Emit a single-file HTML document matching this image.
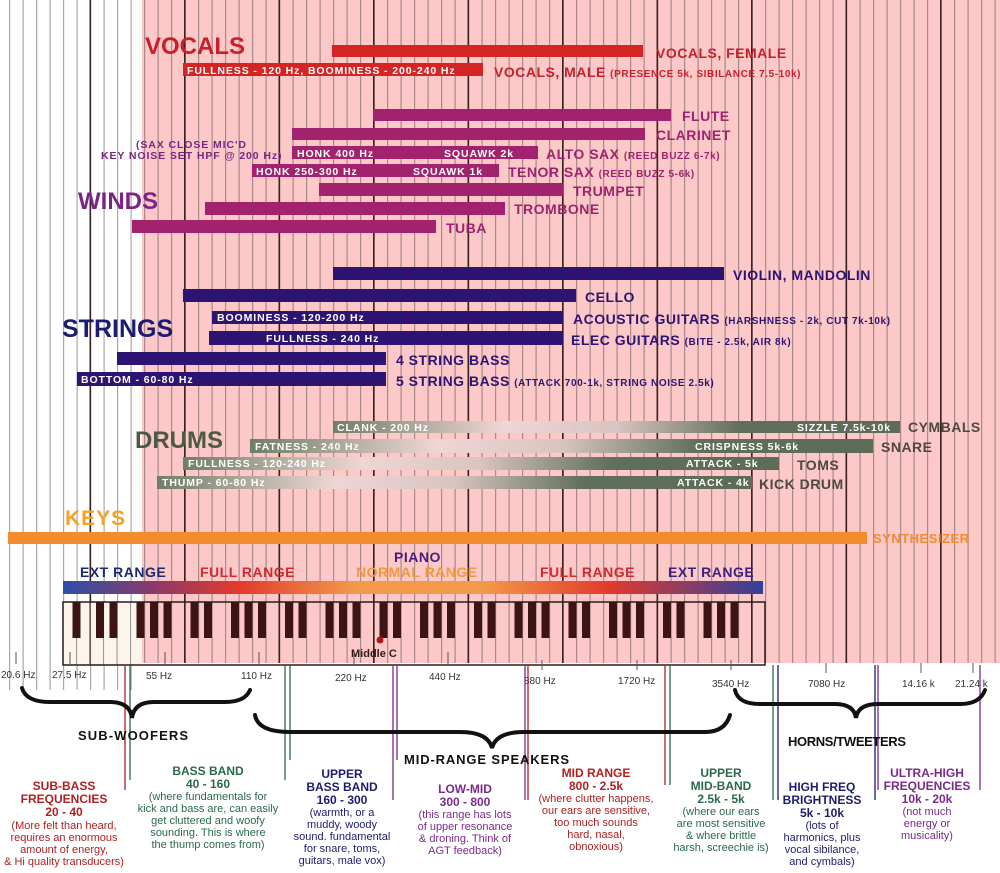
<!DOCTYPE html>
<html><head><meta charset="utf-8"><style>
html,body{margin:0;padding:0;background:#fff;}
svg{display:block;}
text{font-family:"Liberation Sans",sans-serif;font-weight:bold;}
text.n,.n text{font-weight:normal;}
.nb{font-weight:bold;}
.in text{letter-spacing:0.9px;}
.lab text{letter-spacing:0.5px;}
.sm{font-size:10px;letter-spacing:0.6px;}
</style></head><body>
<svg width="1000" height="873" viewBox="0 0 1000 873" xmlns="http://www.w3.org/2000/svg">
<defs>
<pattern id="thinW" x="9" y="0" width="13.5" height="10" patternUnits="userSpaceOnUse"><rect x="0" y="0" width="1.2" height="10" fill="#a8a8a8"/></pattern>
<pattern id="thinP" x="9" y="0" width="13.5" height="10" patternUnits="userSpaceOnUse"><rect x="0" y="0" width="1.2" height="10" fill="#a88a8a"/></pattern>
<pattern id="oct" x="89.5" y="0" width="94.5" height="10" patternUnits="userSpaceOnUse"><rect x="0" y="0" width="1.6" height="10" fill="#3a2222"/></pattern>
<pattern id="blk" x="90" y="602" width="94.5" height="63" patternUnits="userSpaceOnUse">
<rect x="6" y="0" width="8" height="36" fill="#3d1414"/><rect x="19.5" y="0" width="8" height="36" fill="#3d1414"/>
<rect x="46.5" y="0" width="8" height="36" fill="#3d1414"/><rect x="60" y="0" width="8" height="36" fill="#3d1414"/><rect x="73.5" y="0" width="8" height="36" fill="#3d1414"/></pattern>
<linearGradient id="drum" x1="0" x2="1" y1="0" y2="0">
<stop offset="0" stop-color="#6e7e66"/><stop offset="0.3" stop-color="#efd6d4"/><stop offset="0.5" stop-color="#d8c4c0"/><stop offset="0.72" stop-color="#5f6f59"/><stop offset="1" stop-color="#5c6c56"/></linearGradient>
<linearGradient id="pg" x1="0" x2="1" y1="0" y2="0">
<stop offset="0" stop-color="#2c50a8"/><stop offset="0.13" stop-color="#8a3a6a"/><stop offset="0.25" stop-color="#e33a2c"/><stop offset="0.42" stop-color="#f29a4a"/><stop offset="0.6" stop-color="#f29a4a"/><stop offset="0.78" stop-color="#e33a2c"/><stop offset="1" stop-color="#33409a"/></linearGradient>
</defs>
<rect x="142" y="0" width="858" height="663" fill="#fdc8c8"/>
<rect x="0" y="0" width="142" height="690" fill="url(#thinW)"/>
<rect x="142" y="0" width="858" height="663" fill="url(#thinP)"/>
<rect x="0" y="0" width="1000" height="663" fill="url(#oct)"/>

<!-- VOCALS -->
<text x="145" y="54" font-size="24" fill="#c8202a">VOCALS</text>
<rect x="332" y="45" width="311" height="12" fill="#d42424"/>
<g class="lab" font-size="14">
<text x="656" y="58" fill="#c8202a">VOCALS, FEMALE</text>
<text x="494" y="77" fill="#c8202a">VOCALS, MALE <tspan class="sm">(PRESENCE 5k, SIBILANCE 7.5-10k)</tspan></text></g>
<rect x="183" y="63" width="300" height="13" fill="#d42424"/>
<g class="in" fill="#fff" font-size="10.5"><text x="187" y="74">FULLNESS - 120 Hz, BOOMINESS - 200-240 Hz</text></g>

<!-- WINDS -->
<text x="78" y="209" font-size="24" fill="#7c2484">WINDS</text>
<g fill="#a2226e">
<rect x="373" y="109" width="298" height="12"/><rect x="292" y="128" width="353" height="12"/>
<rect x="292" y="146" width="246" height="13"/><rect x="252" y="164" width="247" height="13"/>
<rect x="319" y="183" width="244" height="13"/><rect x="205" y="202" width="300" height="13"/>
<rect x="132" y="220" width="304" height="13"/></g>
<g class="lab" fill="#a0226e" font-size="14">
<text x="682" y="121">FLUTE</text><text x="656" y="140">CLARINET</text>
<text x="546" y="159">ALTO SAX <tspan class="sm">(REED BUZZ 6-7k)</tspan></text>
<text x="508" y="177">TENOR SAX <tspan class="sm">(REED BUZZ 5-6k)</tspan></text>
<text x="573" y="196">TRUMPET</text><text x="514" y="214">TROMBONE</text><text x="446" y="233">TUBA</text></g>
<g class="in" fill="#fff" font-size="10.5"><text x="297" y="157">HONK 400 Hz</text><text x="444" y="157">SQUAWK  2k</text>
<text x="256" y="175">HONK 250-300 Hz</text><text x="413" y="175">SQUAWK  1k</text></g>
<g class="in" fill="#7a2484" font-size="10.5"><text x="136" y="148">(SAX CLOSE MIC'D</text><text x="101" y="159" letter-spacing="0.3">KEY NOISE SET HPF @ 200 Hz)</text></g>

<!-- STRINGS -->
<text x="62" y="337" font-size="25" fill="#1c1c70">STRINGS</text>
<g fill="#2e1472">
<rect x="333" y="267" width="391" height="13"/><rect x="183" y="289" width="393" height="13"/>
<rect x="212" y="311" width="351" height="13"/><rect x="209" y="331" width="354" height="14"/>
<rect x="117" y="352" width="269" height="13"/><rect x="77" y="372" width="309" height="14"/></g>
<g class="lab" fill="#2e1472" font-size="14">
<text x="733" y="280">VIOLIN, MANDOLIN</text><text x="585" y="302">CELLO</text>
<text x="573" y="324">ACOUSTIC GUITARS <tspan class="sm">(HARSHNESS - 2k, CUT 7k-10k)</tspan></text>
<text x="571" y="345">ELEC GUITARS <tspan class="sm">(BITE - 2.5k, AIR 8k)</tspan></text>
<text x="396" y="365">4 STRING BASS</text>
<text x="396" y="386">5 STRING BASS <tspan class="sm">(ATTACK 700-1k, STRING NOISE 2.5k)</tspan></text></g>
<g class="in" fill="#fff" font-size="10.5"><text x="217" y="321">BOOMINESS - 120-200 Hz</text><text x="266" y="342">FULLNESS - 240 Hz</text><text x="81" y="383">BOTTOM - 60-80 Hz</text></g>

<!-- DRUMS -->
<text x="135" y="448" font-size="24" fill="#4c5a44">DRUMS</text>
<g fill="url(#drum)">
<rect x="333" y="421" width="567" height="12"/><rect x="250" y="439" width="623" height="14"/>
<rect x="183" y="457" width="596" height="13"/><rect x="157" y="476" width="595" height="13"/></g>
<g class="in" fill="#fff" font-size="10.5"><text x="337" y="431">CLANK - 200 Hz</text><text x="797" y="431">SIZZLE 7.5k-10k</text>
<text x="255" y="450">FATNESS - 240 Hz</text><text x="695" y="450">CRISPNESS 5k-6k</text>
<text x="188" y="467">FULLNESS - 120-240 Hz</text><text x="686" y="467">ATTACK - 5k</text>
<text x="162" y="486">THUMP - 60-80 Hz</text><text x="677" y="486">ATTACK - 4k</text></g>
<g class="lab" fill="#4c4a40" font-size="14"><text x="908" y="432">CYMBALS</text><text x="881" y="452">SNARE</text>
<text x="797" y="470">TOMS</text><text x="759" y="489">KICK DRUM</text></g>

<!-- KEYS -->
<text x="65" y="525" font-size="21" letter-spacing="1" fill="#f0a428">KEYS</text>
<rect x="8" y="532" width="859" height="12" fill="#f28c2c"/>
<text x="873" y="543" font-size="13" letter-spacing="0.5" fill="#f28c2c">SYNTHESIZER</text>
<g class="lab" font-size="14">
<text x="80" y="577" fill="#1c2a70">EXT RANGE</text><text x="200" y="577" fill="#d02a30">FULL RANGE</text>
<text x="394" y="562" fill="#4a1e78">PIANO</text><text x="356" y="577" fill="#f0983a">NORMAL RANGE</text>
<text x="540" y="577" fill="#d02a30">FULL RANGE</text><text x="668" y="577" fill="#3a2480">EXT RANGE</text></g>
<rect x="63" y="581" width="700" height="13" fill="url(#pg)"/>
<rect x="63" y="602" width="79" height="63" fill="#fbf3e8" opacity="0.85"/>
<rect x="76" y="602" width="1" height="63" fill="#9a9a9a"/><rect x="89.5" y="602" width="1.2" height="63" fill="#3a2222"/>
<rect x="103" y="602" width="1" height="63" fill="#9a9a9a"/><rect x="116.5" y="602" width="1" height="63" fill="#9a9a9a"/><rect x="130" y="602" width="1" height="63" fill="#9a9a9a"/>
<rect x="72.5" y="602" width="8" height="36" fill="#3d1414"/>
<rect x="90" y="602" width="661.5" height="63" fill="url(#blk)"/>
<rect x="63" y="602" width="702" height="63" fill="none" stroke="#2a1a1a" stroke-width="1.5"/>
<circle cx="380" cy="640" r="3.5" fill="#b01818"/>
<text x="351" y="657" font-size="11" fill="#3a1a1a">Middle C</text>

<g stroke="#555" stroke-width="1">
<line x1="16" y1="652" x2="16" y2="664"/><line x1="70" y1="652" x2="70" y2="664"/><line x1="165" y1="652" x2="165" y2="664"/>
<line x1="259" y1="652" x2="259" y2="664"/><line x1="354" y1="652" x2="354" y2="664"/><line x1="448" y1="652" x2="448" y2="664"/>
<line x1="542" y1="660" x2="542" y2="670"/><line x1="637" y1="660" x2="637" y2="670"/><line x1="731" y1="660" x2="731" y2="670"/>
<line x1="826" y1="663" x2="826" y2="673"/><line x1="921" y1="663" x2="921" y2="673"/><line x1="973" y1="663" x2="973" y2="673"/></g>
<g class="n" font-size="10" fill="#333">
<text x="1" y="678">20.6 Hz</text><text x="52" y="678">27.5 Hz</text>
<text x="146" y="679">55 Hz</text><text x="241" y="679">110 Hz</text>
<text x="335" y="681">220 Hz</text><text x="429" y="680">440 Hz</text>
<text x="524" y="684">880 Hz</text><text x="618" y="684">1720 Hz</text>
<text x="712" y="687">3540 Hz</text><text x="808" y="687">7080 Hz</text>
<text x="902" y="687">14.16 k</text><text x="955" y="687">21.24 k</text></g>

<g stroke-width="1.3">
<line x1="125" y1="665" x2="125" y2="790" stroke="#b02020"/><line x1="130" y1="665" x2="130" y2="780" stroke="#2a6a4a"/>
<line x1="285" y1="665" x2="285" y2="780" stroke="#2a6a4a"/><line x1="290" y1="665" x2="290" y2="760" stroke="#2a6a4a"/>
<line x1="393" y1="665" x2="393" y2="800" stroke="#7a2a8a"/><line x1="397" y1="665" x2="397" y2="760" stroke="#7a2a8a"/>
<line x1="525" y1="665" x2="525" y2="800" stroke="#7a2a8a"/><line x1="528" y1="665" x2="528" y2="800" stroke="#b02020"/>
<line x1="665" y1="665" x2="665" y2="785" stroke="#b02020"/><line x1="670" y1="665" x2="670" y2="785" stroke="#2a6a4a"/>
<line x1="773" y1="665" x2="773" y2="800" stroke="#2a6a4a"/><line x1="778" y1="665" x2="778" y2="800" stroke="#1c1c70"/>
<line x1="875" y1="665" x2="875" y2="800" stroke="#1c1c70"/><line x1="878" y1="665" x2="878" y2="790" stroke="#7a2a8a"/>
<line x1="980" y1="665" x2="980" y2="790" stroke="#7a2a8a"/></g>

<g fill="none" stroke="#111" stroke-width="4" stroke-linecap="round">
<path d="M22 688 Q26 702 50 702 L110 702 Q130 702 132 718 Q134 702 154 702 L225 702 Q245 702 250 690"/>
<path d="M255 715 Q258 732 290 732 L460 732 Q488 732 492 748 Q496 732 524 732 L705 732 Q725 732 730 715"/>
<path d="M735 690 Q738 704 760 704 L835 704 Q854 704 856 718 Q858 704 878 704 L960 704 Q980 704 985 690"/></g>
<g font-size="13" fill="#111">
<text x="78" y="740" textLength="110">SUB-WOOFERS</text><text x="404" y="764" textLength="165">MID-RANGE SPEAKERS</text><text x="788" y="746" textLength="118">HORNS/TWEETERS</text></g>

<g text-anchor="middle" font-size="12">
<g fill="#b02020"><text x="64" y="790">SUB-BASS</text><text x="64" y="803">FREQUENCIES</text><text x="64" y="816">20 - 40</text>
<g class="n" font-size="11"><text x="64" y="829">(More felt than heard,</text><text x="64" y="841">requires an enormous</text><text x="64" y="853">amount of energy,</text><text x="64" y="865">&amp; Hi quality transducers)</text></g></g>
<g fill="#2a6a4a"><text x="208" y="775">BASS BAND</text><text x="208" y="788">40 - 160</text>
<g class="n" font-size="11"><text x="208" y="800">(where fundamentals for</text><text x="208" y="812">kick and bass are, can easily</text><text x="208" y="824">get cluttered and woofy</text><text x="208" y="836">sounding. This is where</text><text x="208" y="848">the thump comes from)</text></g></g>
<g fill="#1c1c70"><text x="342" y="778">UPPER</text><text x="342" y="791">BASS BAND</text><text x="342" y="804">160 - 300</text>
<g class="n" font-size="11"><text x="342" y="816">(warmth, or a</text><text x="342" y="828">muddy, woody</text><text x="342" y="840">sound. fundamental</text><text x="342" y="852">for snare, toms,</text><text x="342" y="864">guitars, male vox)</text></g></g>
<g fill="#7a2a8a"><text x="465" y="793">LOW-MID</text><text x="465" y="806">300 - 800</text>
<g class="n" font-size="11"><text x="465" y="818">(this range has lots</text><text x="465" y="830">of upper resonance</text><text x="465" y="842">&amp; droning. Think of</text><text x="465" y="854">AGT feedback)</text></g></g>
<g fill="#b02020"><text x="596" y="777">MID RANGE</text><text x="596" y="790">800 - 2.5k</text>
<g class="n" font-size="11"><text x="596" y="802">(where clutter happens,</text><text x="596" y="814">our ears are sensitive,</text><text x="596" y="826">too much sounds</text><text x="596" y="838">hard, nasal,</text><text x="596" y="850">obnoxious)</text></g></g>
<g fill="#2a6a4a"><text x="721" y="777">UPPER</text><text x="721" y="790">MID-BAND</text><text x="721" y="803">2.5k - 5k</text>
<g class="n" font-size="11"><text x="721" y="815">(where our ears</text><text x="721" y="827">are most sensitive</text><text x="721" y="839">&amp; where brittle</text><text x="721" y="851">harsh, screechie is)</text></g></g>
<g fill="#1c1c70"><text x="822" y="791">HIGH FREQ</text><text x="822" y="804">BRIGHTNESS</text><text x="822" y="817">5k - 10k</text>
<g class="n" font-size="11"><text x="822" y="829">(lots of</text><text x="822" y="841">harmonics, plus</text><text x="822" y="853">vocal sibilance,</text><text x="822" y="865">and cymbals)</text></g></g>
<g fill="#7a2a8a"><text x="927" y="777">ULTRA-HIGH</text><text x="927" y="790">FREQUENCIES</text><text x="927" y="803">10k - 20k</text>
<g class="n" font-size="11"><text x="927" y="815">(not much</text><text x="927" y="827">energy or</text><text x="927" y="839">musicality)</text></g></g>
</g>
</svg>
</body></html>
